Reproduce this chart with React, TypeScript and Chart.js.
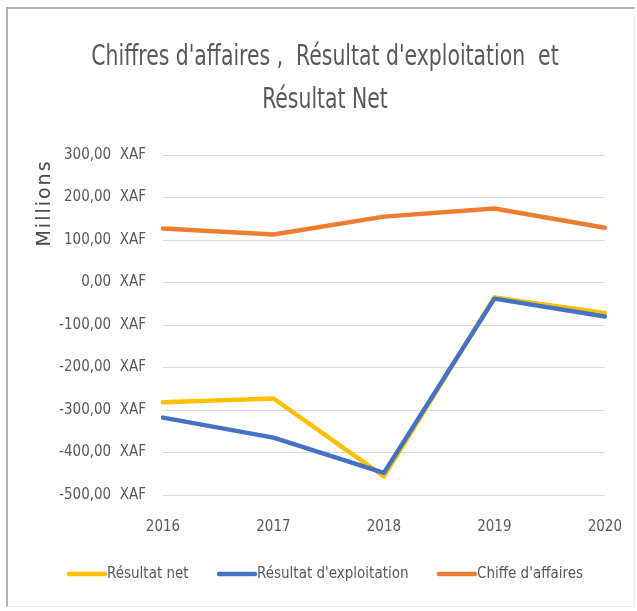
import React, { useEffect, useRef } from "react";
import { Chart, registerables } from "chart.js";

Chart.register(...registerables);

const years = ["2016", "2017", "2018", "2019", "2020"];
const resultatNet = [-282, -273, -456, -35, -72];
const resultatExploitation = [-318, -365, -448, -38, -80];
const chiffreAffaires = [127, 113, 155, 174, 129];
const seriesLabels = ["Résultat net", "Résultat d'exploitation", "Chiffe d'affaires"];
const titleLines = ["Chiffres d'affaires ,  Résultat d'exploitation  et", "Résultat Net"];
const yAxisTitle = "Millions";

const FONT = "'Liberation Sans Narrow', 'DejaVu Sans Condensed', 'Roboto Condensed', 'Open Sans', sans-serif";
const TEXT = "#595959";

const customPlugin = {
  id: "custom",
  afterDraw(chart: any) {
    const ctx = chart.ctx;
    // title
    ctx.save();
    ctx.fillStyle = TEXT;
    ctx.font = `28px ${FONT}`;
    ctx.textAlign = "center";
    ctx.textBaseline = "middle";
    const sx = 0.81;
    ctx.scale(sx, 1);
    titleLines.forEach((line, i) => {
      ctx.fillText(line, 325 / sx, 58 + i * 43);
    });
    ctx.restore();

    // y axis title
    ctx.save();
    ctx.fillStyle = "#4a4a4a";
    ctx.font = `19px 'DejaVu Sans', sans-serif`;
    (ctx as any).letterSpacing = "2px";
    ctx.translate(45, 203);
    ctx.rotate(-Math.PI / 2);
    ctx.textAlign = "center";
    ctx.textBaseline = "middle";
    ctx.fillText(yAxisTitle, 0, 0);
    ctx.restore();

    // legend
    ctx.save();
    ctx.font = `15px ${FONT}`;
    ctx.textBaseline = "middle";
    ctx.textAlign = "left";
    const starts = [67, 217, 437];
    const y = 574;
    chart.data.datasets.forEach((ds: any, i: number) => {
      const x = starts[i];
      ctx.strokeStyle = ds.borderColor;
      ctx.lineWidth = 4.5;
      ctx.lineCap = "round";
      ctx.beginPath();
      ctx.moveTo(x + 2, y);
      ctx.lineTo(x + 38, y);
      ctx.stroke();
      ctx.fillStyle = TEXT;
      ctx.fillText(ds.label, x + 40, y);
    });
    ctx.restore();
  },
};

export default function App() {
  const ref = useRef<HTMLCanvasElement>(null);
  useEffect(() => {
    if (!ref.current) return;
    const chart = new Chart(ref.current, {
      type: "line",
      data: {
        labels: years,
        datasets: [
          { label: seriesLabels[0], data: resultatNet, borderColor: "#FFC000", backgroundColor: "#FFC000", order: 2 },
          { label: seriesLabels[1], data: resultatExploitation, borderColor: "#4472C4", backgroundColor: "#4472C4", order: 1 },
          { label: seriesLabels[2], data: chiffreAffaires, borderColor: "#ED7D31", backgroundColor: "#ED7D31", order: 3 },
        ].map((d) => ({ ...d, borderWidth: 4.5, pointRadius: 0, tension: 0, borderJoinStyle: "round" as const, borderCapStyle: "round" as const })),
      },
      options: {
        animation: false,
        responsive: false,
        layout: { padding: { left: 0, right: 24, top: 155, bottom: 0 } },
        plugins: {
          legend: { display: false },
          tooltip: { enabled: false },
          title: { display: false },
        },
        scales: {
          x: {
            offset: false,
            grid: { display: false },
            border: { display: false },
            ticks: { color: TEXT, font: { family: FONT, size: 15 }, padding: 15, maxRotation: 0 },
            afterFit(scale: any) {
              scale.height = 116;
            },
          },
          y: {
            min: -500,
            max: 300,
            grid: { color: "#d9d9d9", lineWidth: 1, drawTicks: false },
            border: { display: false },
            ticks: {
              stepSize: 100,
              color: TEXT,
              padding: 17,
              font: { family: FONT, size: 15 },
              callback: (v: any) => `${Number(v).toFixed(2).replace(".", ",")}  XAF`,
            },
            afterFit(scale: any) {
              scale.width = 163;
            },
          },
        },
      },
      plugins: [customPlugin],
    });
    return () => chart.destroy();
  }, []);

  return (
    <div style={{ position: "absolute", left: 0, top: 0, width: 637, height: 611, background: "#fff" }}>
      <div
        style={{
          position: "absolute",
          left: 6,
          top: 7,
          width: 626,
          height: 597,
          borderTop: "2px solid #b3b3b3",
          borderLeft: "2px solid #b3b3b3",
          borderRight: "1px solid #ececec",
          borderBottom: "1px solid #ececec",
        }}
      />
      <canvas ref={ref} width={637} height={611} style={{ position: "absolute", left: 0, top: 0, width: 637, height: 611 }} />
    </div>
  );
}
